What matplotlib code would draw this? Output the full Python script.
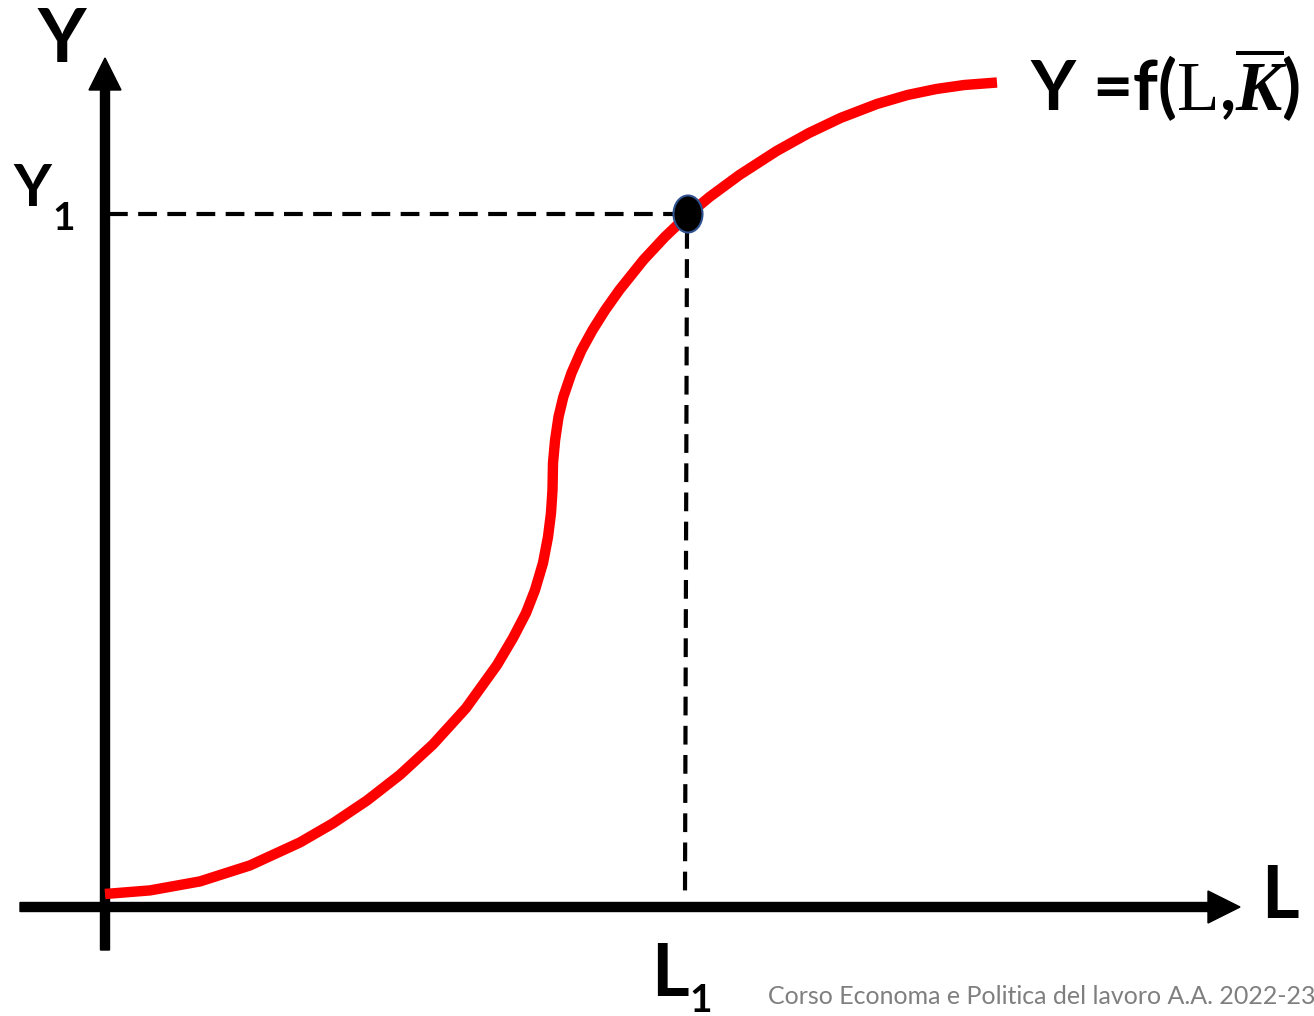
import numpy as np
import matplotlib
matplotlib.use('Agg')
import matplotlib.pyplot as plt
from matplotlib.patches import Ellipse

# production function (L, Y) in chart units
L_vals = [0, 45, 95, 145, 195, 228, 262, 295, 328, 361, 392, 408, 421, 430,
          438, 443, 446, 447.5, 448, 450.1, 453.5, 458.3, 466.5, 476.6, 487.6,
          500.2, 514.4, 538.4, 559.8, 582.9, 604.5, 634.4, 671.6, 704, 735.5,
          771.9, 802.5, 831.3, 859.3, 892]
Y_vals = [13, 16.6, 25.6, 41.6, 64.6, 83.7, 106.5, 132.2, 162.6, 198.9, 242,
          269, 294, 317, 344, 370, 394, 417, 444, 467, 490, 510, 534, 557, 577,
          597, 617, 647, 670, 692, 710, 732, 756, 774, 789, 803, 812, 818, 822,
          824.5]
L1, Y1 = 582, 693
footer = "Corso Economa e Politica del lavoro A.A. 2022-23"

plt.rcParams['mathtext.fontset'] = 'custom'
plt.rcParams['mathtext.rm'] = 'Liberation Serif'
plt.rcParams['mathtext.it'] = 'Liberation Serif:italic:bold'

fig = plt.figure(figsize=(13.14, 10.16), dpi=100)
ax = fig.add_axes([0, 0, 1, 1])
ax.set_xlim(-105, 1209)
ax.set_ylim(-109, 907)
ax.axis('off')

bold = dict(family='Lato', weight='bold', color='black')

# axes arrows
ax.arrow(0, -43, 0, 892, width=9, head_width=32, head_length=32,
         length_includes_head=True, color='black', zorder=3)
ax.arrow(-85, 0, 1220, 0, width=9, head_width=32, head_length=32,
         length_includes_head=True, color='black', zorder=3)

# guide lines
ax.plot([4, L1], [Y1, Y1], color='black', lw=3, ls=(0, (4.5, 2.5)), zorder=2)
ax.plot([L1, L1 - 2], [Y1 - 16, 14], color='black', lw=3, ls=(0, (4.5, 2.5)), zorder=2)

# curve
ax.plot(L_vals, Y_vals, color='#ff0000', lw=7.5, solid_capstyle='butt',
        solid_joinstyle='round', zorder=4)

ax.add_patch(Ellipse((L1 + 1, Y1), 29, 37, facecolor='black',
                     edgecolor='#2f528f', lw=1.5, zorder=5))

# labels
ax.text(-43, 867, "Y", fontsize=54, ha='center', va='center', **bold)
ax.text(-73, 717, "Y", fontsize=42, ha='center', va='center', **bold)
ax.text(-41, 689, "1", fontsize=28, ha='center', va='center', **bold)
ax.text(1175, 10, "L", fontsize=52, ha='center', va='center', **bold)
ax.text(565, -68, "L", fontsize=52, ha='center', va='center', **bold)
ax.text(596, -94, "1", fontsize=28, ha='center', va='center', **bold)
ax.text(925, 822, r"Y =f($\mathrm{L}$,$\overline{K}$)", fontsize=50,
        ha='left', va='center', **bold)

ax.text(663, -90, footer, fontsize=18, family='Lato', color='#7f7f7f',
        ha='left', va='center')

fig.savefig('out.png', dpi=100)
